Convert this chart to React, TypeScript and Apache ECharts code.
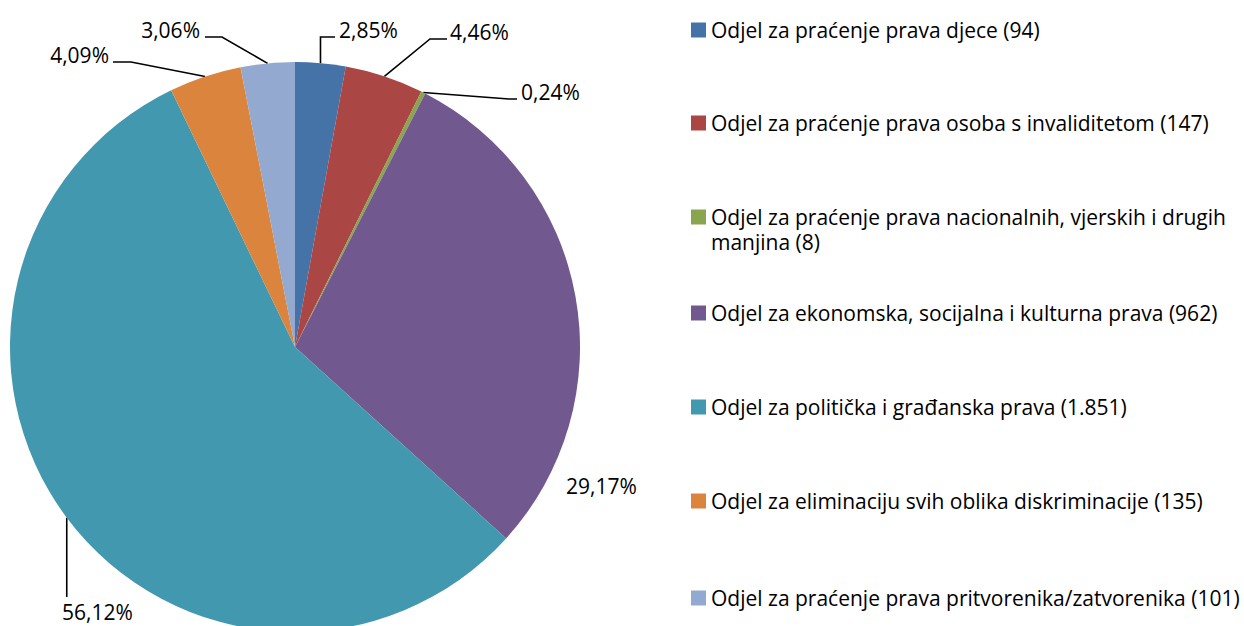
import React, { useEffect, useRef } from "react";
import * as echarts from "echarts";

const names = [
  "Odjel za praćenje prava djece",
  "Odjel za praćenje prava osoba s invaliditetom",
  "Odjel za praćenje prava nacionalnih, vjerskih i drugih manjina",
  "Odjel za ekonomska, socijalna i kulturna prava",
  "Odjel za politička i građanska prava",
  "Odjel za eliminaciju svih oblika diskriminacije",
  "Odjel za praćenje prava pritvorenika/zatvorenika",
];
const counts = [94, 147, 8, 962, 1851, 135, 101];
const countLabels = ["94", "147", "8", "962", "1.851", "135", "101"];
const colors = ["#4572A7", "#AA4643", "#89A54E", "#71588F", "#4198AF", "#DB843D", "#93A9CF"];

const FONT = "Open Sans";
const FS = 21;
const CX = 295;
const CY = 347;
const R = 285;

// label layout (positions only)
type LP = { x: number; y: number; align: "left" | "right"; kind: string; elbow: number; gap: number };
const labelPos: LP[] = [
  { x: 339, y: 30, align: "left", kind: "vert", elbow: 0, gap: 4 },
  { x: 450, y: 32, align: "left", kind: "diag", elbow: 17, gap: 3 },
  { x: 521, y: 92, align: "left", kind: "diag", elbow: 8, gap: 4 },
  { x: 566, y: 486, align: "left", kind: "none", elbow: 0, gap: 0 },
  { x: 62, y: 612, align: "left", kind: "down", elbow: 0, gap: 0 },
  { x: 109, y: 55, align: "right", kind: "diag", elbow: 18, gap: 4 },
  { x: 200, y: 30, align: "right", kind: "diag", elbow: 17, gap: 5 },
];
const LINE_DY = 7;
const legendCenters = [30, 123, 217, 313, 407, 501, 598];

const total = counts.reduce((a, b) => a + b, 0);
const pctText = (v: number) => ((v / total) * 100).toFixed(2).replace(".", ",") + "%";

function edgePoint(i: number): number[] {
  let before = 0;
  for (let k = 0; k < i; k++) before += counts[k];
  const mid = (before + counts[i] / 2) / total;
  const a = mid * Math.PI * 2;
  return [CX + R * Math.sin(a), CY - R * Math.cos(a)];
}

export default function App() {
  const ref = useRef<HTMLDivElement>(null);
  useEffect(() => {
    if (!ref.current) return;
    const chart = echarts.init(ref.current, null, { renderer: "svg" });
    const lh = 25;
    const legends = names.map((n, i) => {
      const multi = i === 2;
      const boxH = multi ? lh * 3 : lh;
      return {
        data: [n],
        orient: "vertical",
        left: 691,
        top: legendCenters[i] - boxH / 2,
        padding: 0,
        itemWidth: 15,
        itemHeight: 15,
        itemGap: 0,
        icon: "rect",
        selectedMode: false,
        formatter: (name: string) => {
          const idx = names.indexOf(name);
          if (idx === 2) {
            return "\nOdjel za praćenje prava nacionalnih, vjerskih i drugih\nmanjina (" + countLabels[idx] + ")";
          }
          return name + " (" + countLabels[idx] + ")";
        },
        textStyle: {
          fontFamily: FONT,
          fontSize: FS,
          color: "#000",
          lineHeight: lh,
        },
      };
    });
    chart.setOption({
      animation: false,
      color: colors,
      legend: legends,
      series: [
        {
          type: "pie",
          center: [CX, CY],
          radius: R,
          startAngle: 90,
          clockwise: true,
          avoidLabelOverlap: false,
          data: counts.map((v, i) => ({
            value: v,
            name: names[i],
            labelLine: { show: labelPos[i].kind !== "none" },
          })),
          itemStyle: { borderWidth: 0 },
          label: {
            show: true,
            position: "outside",
            formatter: (p: any) => pctText(p.value),
            fontFamily: FONT,
            fontSize: FS,
            color: "#000",
          },
          labelLine: {
            show: true,
            lineStyle: { color: "#000", width: 1.6 },
          },
          labelLayout: (params: any) => {
            const i = params.dataIndex;
            const p = labelPos[i];
            const s = edgePoint(i);
            let pts: number[][] | undefined;
            const dir = p.align === "left" ? 1 : -1;
            const ly = p.y + LINE_DY;
            if (p.kind === "vert") {
              pts = [s, [s[0], ly], [p.x - p.gap, ly]];
            } else if (p.kind === "diag") {
              pts = [s, [p.x - dir * (p.gap + p.elbow), ly], [p.x - dir * p.gap, ly]];
            } else if (p.kind === "down") {
              pts = [s, [s[0], p.y - 15], [s[0], p.y - 15]];
            }
            const res: any = {
              x: p.x,
              y: p.y,
              align: p.align,
              verticalAlign: "middle",
            };
            if (pts) res.labelLinePoints = pts;
            return res;
          },
        },
      ],
    });
    return () => chart.dispose();
  }, []);
  return (
    <div
      ref={ref}
      style={{ position: "absolute", left: 0, top: 0, width: 1244, height: 626, background: "#fff" }}
    />
  );
}
